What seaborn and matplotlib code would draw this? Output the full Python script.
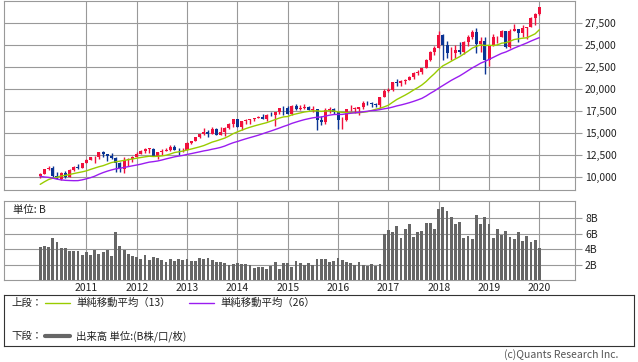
"""
NY Dow monthly candles with moving averages and volume
"""

import matplotlib
matplotlib.use("Agg")
import matplotlib.pyplot as plt
import seaborn as sns
import numpy as np
import pandas as pd

sns.set_theme(style="white")
plt.rcParams["font.family"] = ["Noto Sans CJK JP", "DejaVu Sans"]

# --- data (monthly, 2010-02 .. 2020-01) ---
first_month = "2010-02"

opens = [
    10067, 10325, 10857, 11009, 10137, 9774, 10466, 10015, 10788, 11118, 11006,
    11578, 11892, 12226, 12320, 12811, 12570, 12414, 12143, 11614, 10913, 11955, 12046,
    12218, 12633, 12952, 13212, 13214, 12393, 12880, 13009, 13091, 13437, 13096, 13026,
    13104, 13861, 14054, 14579, 14840, 15116, 14910, 15500, 14810, 15130, 15546, 16086,
    16577, 15699, 16322, 16458, 16581, 16717, 16827, 16563, 17098, 17043, 17391, 17828,
    17823, 17165, 18133, 17776, 17841, 18011, 17620, 17690, 16528, 16285, 17664, 17720,
    17425, 16466, 16517, 17685, 17774, 17787, 17930, 18432, 18401, 18308, 18142, 19124,
    19763, 19864, 20812, 20663, 20941, 21009, 21350, 21891, 21948, 22405, 23377, 24272,
    24719, 26149, 25029, 24103, 24163, 24416, 24271, 25415, 25965, 26458, 25116, 25538,
    23327, 24999, 25916, 25929, 26593, 24815, 26600, 26864, 26403, 26917, 27046, 28051,
    28538,
]
highs = [
    10402, 10908, 11258, 11205, 10594, 10545, 10720, 10948, 11245, 11451, 11625,
    12021, 12284, 12419, 12876, 12929, 12570, 12754, 12284, 11717, 12284, 12188, 12362,
    12842, 13055, 13289, 13338, 13280, 12899, 13134, 13330, 13653, 13662, 13290, 13308,
    13970, 14150, 14585, 14888, 15542, 15340, 15658, 15632, 15710, 15721, 16174, 16589,
    16588, 16398, 16563, 16631, 16735, 16978, 17151, 17153, 17350, 17395, 17894, 18103,
    18121, 18244, 18289, 18175, 18351, 18133, 18137, 17712, 16933, 17799, 17978, 17896,
    17425, 16795, 17790, 18168, 17935, 18016, 18622, 18668, 18534, 18399, 19152, 19988,
    20126, 20851, 21169, 21070, 21113, 21535, 21930, 22180, 22420, 23485, 24327, 24876,
    26617, 26307, 25450, 24858, 25087, 25402, 25462, 26167, 26770, 26951, 25980, 25980,
    25040, 26241, 26110, 26696, 26671, 26907, 27398, 26864, 27306, 27122, 28175, 28701,
    29373,
]
lows = [
    9835, 10325, 10827, 9870, 9758, 9614, 9936, 10015, 10712, 10929, 11006,
    11578, 11892, 11555, 12093, 12307, 11862, 12093, 10604, 10597, 10404, 11231, 11735,
    12218, 12633, 12742, 12710, 12393, 12035, 12492, 12940, 12977, 13049, 12471, 12883,
    13104, 13744, 14054, 14398, 14746, 14551, 14910, 14760, 14760, 14719, 15510, 15703,
    15699, 15340, 16015, 16015, 16334, 16675, 16563, 16333, 16945, 15855, 17189, 17068,
    17136, 17038, 17585, 17593, 17729, 17597, 17399, 15370, 15942, 16013, 17303, 17138,
    15450, 15503, 16410, 17484, 17331, 17063, 17713, 18247, 17992, 17959, 17883, 19124,
    19678, 19832, 20412, 20379, 20554, 21009, 21200, 21600, 21709, 22405, 23242, 23921,
    24659, 23360, 23509, 23344, 23531, 23998, 23997, 24965, 25734, 24123, 24268, 21713,
    22638, 24883, 25208, 25929, 24680, 24680, 26600, 25339, 25978, 25743, 27046, 27325,
    28418,
]
closes = [
    10325, 10857, 11009, 10137, 9774, 10466, 10015, 10788, 11118, 11006, 11578,
    11892, 12226, 12320, 12811, 12570, 12414, 12143, 11614, 10913, 11955, 12046, 12218,
    12633, 12952, 13212, 13214, 12393, 12880, 13009, 13091, 13437, 13096, 13026, 13104,
    13861, 14054, 14579, 14840, 15116, 14910, 15500, 14810, 15130, 15546, 16086, 16577,
    15699, 16322, 16458, 16581, 16717, 16827, 16563, 17098, 17043, 17391, 17828, 17823,
    17165, 18133, 17776, 17841, 18011, 17620, 17690, 16528, 16285, 17664, 17720, 17425,
    16466, 16517, 17685, 17774, 17787, 17930, 18432, 18401, 18308, 18142, 19124, 19763,
    19864, 20812, 20663, 20941, 21009, 21350, 21891, 21948, 22405, 23377, 24272, 24719,
    26149, 25029, 24103, 24163, 24416, 24271, 25415, 25965, 26458, 25116, 25538, 23327,
    24999, 25916, 25929, 26593, 24815, 26600, 26864, 26403, 26917, 27046, 28051, 28538,
    29348,
]
# closes before the first candle (2008-01 .. 2010-01), only used for the averages
earlier_closes = [
    12650, 12266, 12263, 12820, 12638, 11350, 11378, 11544, 10851, 9325, 8829, 8776,
    8001, 7063, 7609, 8168, 8500, 8447, 9172, 9496, 9712, 9713, 10345, 10428, 10067,
]
# volume, billions of shares
volume = [
    4.3, 4.4, 4.3, 5.5, 4.9, 4.2, 4.2, 3.8, 3.8, 3.8, 3.3,
    3.7, 3.3, 3.9, 3.4, 3.7, 3.9, 3.2, 6.2, 4.4, 3.9, 3.4, 3.2,
    3.0, 2.8, 3.3, 2.6, 3.0, 2.9, 2.6, 2.4, 2.8, 2.5, 2.8, 2.6,
    2.8, 2.5, 2.5, 2.9, 2.8, 2.9, 2.6, 2.4, 2.4, 2.3, 2.0, 2.1,
    2.3, 2.1, 2.1, 2.0, 1.6, 1.75, 1.75, 1.5, 1.9, 2.4, 1.5, 2.3,
    2.3, 1.75, 2.5, 2.3, 2.0, 2.3, 2.0, 2.8, 2.8, 2.7, 2.4, 2.5,
    2.9, 2.6, 2.4, 2.2, 2.0, 2.4, 2.0, 1.8, 2.1, 1.9, 2.1, 6.0,
    6.5, 6.3, 7.05, 5.5, 6.66, 7.3, 5.6, 6.3, 6.4, 7.45, 7.45, 6.66,
    9.25, 9.5, 9.0, 8.2, 7.3, 7.57, 5.5, 5.75, 5.36, 8.47, 7.3, 8.2,
    7.3, 5.5, 6.66, 5.88, 6.4, 5.62, 5.36, 6.27, 5.1, 5.75, 4.97, 5.23,
    4.2,
]
price_ticks = [10000, 12500, 15000, 17500, 20000, 22500, 25000, 27500]
volume_ticks = [2, 4, 6, 8]

RED = "#f0103c"
BLUE = "#0a3494"
MA13_COLOR = "#99cc00"
MA26_COLOR = "#9a1cf0"
GRID = "#999999"


def style_axis(ax):
    ax.grid(True, color=GRID, linewidth=0.8)
    for side in ax.spines.values():
        side.set_color(GRID)
        side.set_linewidth(0.8)
    ax.yaxis.tick_right()
    ax.tick_params(axis="y", length=5, width=0.8, color=GRID, pad=2.2,
                   labelsize=7.5, labelcolor="#222222")
    ax.tick_params(axis="x", length=0)


months = pd.period_range(first_month, periods=len(closes), freq="M")
x = np.arange(len(closes))
year_pos = x[months.month == 1]
year_labels = [str(y) for y in months.year[months.month == 1]]

o = np.array(opens)
h = np.array(highs)
l = np.array(lows)
c = np.array(closes)
colors = np.where(c >= o, RED, BLUE)

all_closes = pd.Series(earlier_closes + closes)
ma13 = all_closes.rolling(13).mean().to_numpy()[-len(closes):]
ma26 = all_closes.rolling(26).mean().to_numpy()[-len(closes):]

fig = plt.figure(figsize=(6.38, 3.62), dpi=100)
ax = fig.add_axes([3.5 / 638, 1 - 190.3 / 362, 571.5 / 638, 189.8 / 362])
ax_vol = fig.add_axes([3.5 / 638, 1 - 280.4 / 362, 571.5 / 638, 79.4 / 362])

# price panel
style_axis(ax)
ax.vlines(x, l, h, colors=colors, linewidth=1, zorder=2)
ax.bar(x, np.maximum(np.abs(c - o), 70), bottom=np.minimum(o, c),
       width=0.72, color=colors, linewidth=0, zorder=3)
sns.lineplot(x=x, y=ma13, color=MA13_COLOR, linewidth=1, ax=ax, zorder=4)
sns.lineplot(x=x, y=ma26, color=MA26_COLOR, linewidth=1, ax=ax, zorder=4)
ax.set_xlim(-8.75, 127.5)
ax.set_ylim(8480, 30100)
ax.set_xticks(year_pos)
ax.set_xticklabels([])
ax.set_yticks(price_ticks)
ax.set_yticklabels([f"{v:,}" for v in price_ticks])
ax.set_xlabel("")
ax.set_ylabel("")

# volume panel
style_axis(ax_vol)
ax_vol.bar(x, volume, width=0.68, color="#666666", linewidth=0, zorder=3)
ax_vol.set_xlim(-8.75, 127.5)
ax_vol.set_ylim(0, 10.25)
ax_vol.set_xticks(year_pos)
ax_vol.set_xticklabels(year_labels, fontsize=7.5, color="#222222")
ax_vol.tick_params(axis="x", pad=2)
ax_vol.set_yticks(volume_ticks)
ax_vol.set_yticklabels([f"{v}B" for v in volume_ticks])
ax_vol.text(0.017, 0.885, "単位: B", transform=ax_vol.transAxes,
            fontsize=7.5, va="center", ha="left", color="#222222")

# legend box (pixel coordinates)
leg = fig.add_axes([3.5 / 638, 1 - 346 / 362, 630.5 / 638, 51 / 362])
leg.set_xlim(3.5, 634)
leg.set_ylim(346, 295)
leg.set_xticks([])
leg.set_yticks([])
for side in leg.spines.values():
    side.set_color("#333333")
    side.set_linewidth(0.8)
txt = dict(fontsize=7.5, va="center", ha="left", color="#222222")
leg.text(11, 303, "上段：", **txt)
leg.plot([45, 70], [303, 303], color=MA13_COLOR, linewidth=1)
leg.text(76, 303, "単純移動平均（13）", **txt)
leg.plot([189, 214], [303, 303], color=MA26_COLOR, linewidth=1)
leg.text(220, 303, "単純移動平均（26）", **txt)
leg.text(11, 336, "下段：", **txt)
leg.plot([45, 70], [336, 336], color="#666666", linewidth=3)
leg.text(76, 336, "出来高 単位:(B株/口/枚)", **txt)

fig.text(618 / 638, 1 - 355 / 362, "(c)Quants Research Inc.", ha="right",
         va="center", fontsize=7.5, color="#555555")

fig.savefig("out.png", dpi=100)
plt.close(fig)
